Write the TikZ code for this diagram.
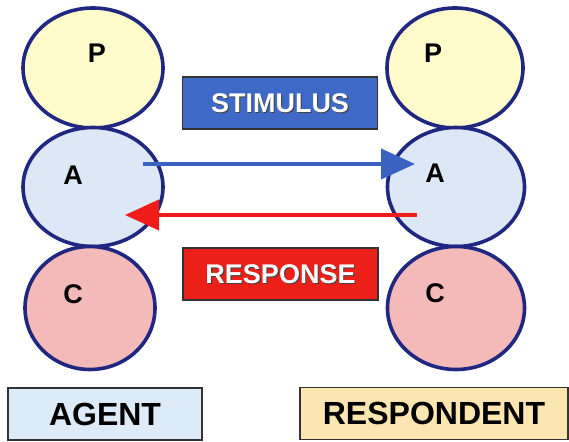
\documentclass[tikz,border=0pt]{standalone}
\usepackage{fontspec}
\setmainfont{Liberation Sans}
\usetikzlibrary{shapes.geometric,arrows.meta,calc}
\definecolor{ringblue}{HTML}{1F2780}
\definecolor{pfill}{HTML}{FFFBCB}
\definecolor{afill}{HTML}{DCE8F6}
\definecolor{cfill}{HTML}{F4BABA}
\definecolor{stimblue}{HTML}{3F69C6}
\definecolor{respred}{HTML}{EC2019}
\definecolor{arrowblue}{HTML}{3A62C2}
\definecolor{arrowred}{HTML}{F01C1C}
\definecolor{agentfill}{HTML}{DDEAF7}
\definecolor{respfill}{HTML}{FBE6B2}
\definecolor{boxline}{HTML}{333333}
\tikzset{
  ego/.style={ellipse, draw=ringblue, line width=3.6pt, inner sep=0pt},
  egolabel/.style={font=\bfseries\fontsize{27}{27}\selectfont, text=black},
  banner/.style={draw=boxline, line width=1.3pt, minimum width=195pt, minimum height=52pt, inner sep=0pt},
  bannertext/.style={font=\bfseries\fontsize{27}{27}\selectfont, text=white},
  shadowtext/.style={font=\bfseries\fontsize{27}{27}\selectfont, text=black!75},
  rolebox/.style={draw=boxline, line width=1.3pt, minimum height=52pt, inner sep=0pt, font=\bfseries\fontsize{32}{32}\selectfont},
  flow/.style={line width=4pt, -{Triangle[length=34pt,width=30pt]}},
}
\begin{document}
\begin{tikzpicture}[x=1pt,y=1pt]
\useasboundingbox (0,0) rectangle (569,441);
\fill[white] (0,0) rectangle (569,441);

% agent ego states
\node[ego, fill=pfill, minimum width=140pt, minimum height=120pt] (lP) at (93,373) {};
\node[ego, fill=afill, minimum width=140pt, minimum height=119pt] (lA) at (93,254) {};
\node[ego, fill=cfill, minimum width=130pt, minimum height=123pt] (lC) at (90,133) {};
\node[egolabel] (lPt) at (97,388) {P};
\node[egolabel] (lAt) at (73,266) {A};
\node[egolabel] (lCt) at (73,147) {C};

% respondent ego states
\node[ego, fill=pfill, minimum width=136pt, minimum height=120pt] (rP) at (455,373) {};
\node[ego, fill=afill, minimum width=137pt, minimum height=119pt] (rA) at (456,254) {};
\node[ego, fill=cfill, minimum width=137pt, minimum height=123pt] (rC) at (456,133) {};
\node[egolabel] (rPt) at (433,388) {P};
\node[egolabel] (rAt) at (435,268) {A};
\node[egolabel] (rCt) at (435,148) {C};

% banners
\node[banner, fill=stimblue] (stim) at (280,338) {};
\node[shadowtext] at ($(stim.center)+(1.2,-1.2)$) {STIMULUS};
\node[bannertext] (stimt) at (stim.center) {STIMULUS};
\node[banner, fill=respred] (resp) at (280.5,167) {};
\node[shadowtext] at ($(resp.center)+(1.2,-1.2)$) {RESPONSE};
\node[bannertext] (respt) at (resp.center) {RESPONSE};

% transaction arrows
\coordinate (sFrom) at ($(lA.center)+(50,23)$);
\coordinate (sTo) at ($(rA.center)+(-41,23)$);
\coordinate (rFrom) at ($(rA.center)+(-39,-28)$);
\coordinate (rTo) at ($(lA.center)+(32,-28)$);
\draw[flow, draw=arrowblue, fill=arrowblue] (sFrom) -- (sTo);
\draw[flow, draw=arrowred, fill=arrowred] (rFrom) -- (rTo);

% role labels
\node[rolebox, fill=agentfill, minimum width=194pt] (agent) at (105,27) {AGENT};
\node[rolebox, fill=respfill, minimum width=268pt] (respondent) at (434,27.5) {RESPONDENT};
\end{tikzpicture}
\end{document}
